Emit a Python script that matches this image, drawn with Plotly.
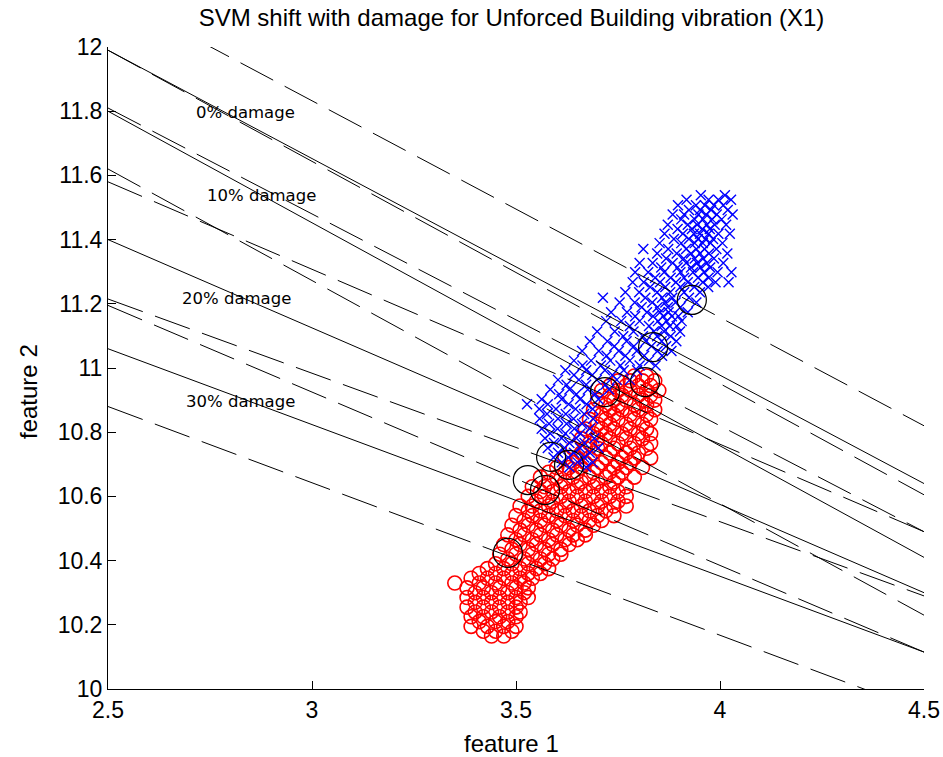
import plotly.graph_objects as go

# Class 1 (blue crosses): rows of (feature 2, [feature 1 values])
blue_rows = [
    (11.538, [3.953, 4.012]),
    (11.524, [3.918, 3.972, 3.996, 4.027]),
    (11.507, [3.897, 3.941, 3.963, 3.985, 4.008]),
    (11.492, [3.924, 3.951, 3.978, 4.019]),
    (11.478, [3.884, 3.912, 3.947, 3.966, 3.992, 4.031]),
    (11.463, [3.905, 3.938, 3.959, 3.981, 4.004]),
    (11.446, [3.872, 3.921, 3.944, 3.968, 3.987, 4.015]),
    (11.433, [3.896, 3.931, 3.957, 3.975]),
    (11.418, [3.864, 3.909, 3.936, 3.951, 3.972, 3.996, 4.024]),
    (11.402, [3.887, 3.924, 3.946, 3.964, 3.983]),
    (11.389, [3.852, 3.905, 3.938, 3.958, 3.977, 4.006]),
    (11.371, [3.812, 3.873, 3.917, 3.942, 3.962, 3.991]),
    (11.357, [3.846, 3.894, 3.929, 3.951, 3.973, 4.018]),
    (11.341, [3.868, 3.911, 3.938, 3.959, 3.985]),
    (11.327, [3.803, 3.835, 3.884, 3.917, 3.944, 3.968, 4.008]),
    (11.313, [3.856, 3.896, 3.929, 3.952, 3.976]),
    (11.298, [3.792, 3.824, 3.863, 3.903, 3.934, 3.961, 3.994, 4.028]),
    (11.281, [3.841, 3.879, 3.912, 3.946, 3.972]),
    (11.267, [3.786, 3.813, 3.853, 3.892, 3.921, 3.958, 3.989, 4.021]),
    (11.252, [3.829, 3.866, 3.903, 3.937, 3.971]),
    (11.236, [3.768, 3.802, 3.846, 3.878, 3.912, 3.951]),
    (11.219, [3.713, 3.817, 3.858, 3.883, 3.924]),
    (11.204, [3.754, 3.791, 3.834, 3.866, 3.891, 3.942]),
    (11.189, [3.808, 3.847, 3.872, 3.903]),
    (11.174, [3.733, 3.772, 3.821, 3.853, 3.874, 3.921]),
    (11.161, [3.792, 3.836, 3.861, 3.882, 3.898]),
    (11.146, [3.721, 3.758, 3.803, 3.848, 3.869, 3.906]),
    (11.131, [3.779, 3.826, 3.857, 3.877, 3.894]),
    (11.114, [3.699, 3.742, 3.788, 3.838, 3.863, 3.902]),
    (11.099, [3.763, 3.811, 3.846, 3.879]),
    (11.083, [3.681, 3.724, 3.771, 3.818, 3.857, 3.893]),
    (11.068, [3.741, 3.789, 3.832, 3.868]),
    (11.053, [3.662, 3.703, 3.752, 3.796, 3.847, 3.881]),
    (11.038, [3.722, 3.768, 3.814, 3.858]),
    (11.023, [3.642, 3.684, 3.731, 3.779, 3.826]),
    (11.008, [3.663, 3.708, 3.756, 3.803, 3.842]),
    (10.993, [3.621, 3.672, 3.718, 3.764, 3.797]),
    (10.978, [3.642, 3.687, 3.736]),
    (10.963, [3.603, 3.654, 3.698, 3.747, 3.779]),
    (10.948, [3.624, 3.672, 3.719]),
    (10.933, [3.584, 3.631, 3.676, 3.728]),
    (10.918, [3.606, 3.648, 3.694]),
    (10.903, [3.563, 3.612, 3.657, 3.702]),
    (10.887, [3.527, 3.578, 3.629, 3.673]),
    (10.872, [3.557, 3.598, 3.646, 3.688]),
    (10.857, [3.576, 3.622, 3.667]),
    (10.842, [3.558, 3.603, 3.641, 3.689]),
    (10.826, [3.581, 3.624, 3.662]),
    (10.811, [3.563, 3.602, 3.643, 3.681]),
    (10.796, [3.584, 3.621, 3.658]),
    (10.781, [3.571, 3.612, 3.648, 3.692]),
    (10.766, [3.593, 3.631, 3.668]),
    (10.751, [3.578, 3.619, 3.657, 3.702]),
    (10.736, [3.603, 3.642, 3.681]),
    (10.721, [3.592, 3.628, 3.667]),
    (10.706, [3.612, 3.651, 3.688]),
    (10.691, [3.631, 3.672]),
]

# Class 2 (red circles): rows of (feature 2, [feature 1 values])
red_rows = [
    (10.975, [3.79, 3.82]),
    (10.96, [3.75, 3.78, 3.81, 3.84]),
    (10.945, [3.73, 3.77, 3.80, 3.83]),
    (10.93, [3.71, 3.75, 3.78, 3.82, 3.85]),
    (10.915, [3.73, 3.76, 3.80, 3.83]),
    (10.90, [3.70, 3.74, 3.77, 3.81, 3.84]),
    (10.885, [3.72, 3.75, 3.79, 3.82]),
    (10.87, [3.69, 3.73, 3.76, 3.80, 3.84]),
    (10.855, [3.71, 3.74, 3.78, 3.82]),
    (10.84, [3.68, 3.72, 3.75, 3.79, 3.83]),
    (10.825, [3.70, 3.73, 3.77, 3.81]),
    (10.81, [3.67, 3.71, 3.74, 3.78, 3.82]),
    (10.795, [3.69, 3.72, 3.76, 3.80, 3.83]),
    (10.78, [3.66, 3.70, 3.73, 3.77, 3.81]),
    (10.765, [3.68, 3.71, 3.75, 3.79, 3.83]),
    (10.75, [3.64, 3.67, 3.70, 3.74, 3.78, 3.82]),
    (10.735, [3.66, 3.69, 3.73, 3.77, 3.80]),
    (10.72, [3.62, 3.65, 3.68, 3.72, 3.76, 3.79, 3.83]),
    (10.705, [3.64, 3.67, 3.71, 3.75, 3.78]),
    (10.69, [3.60, 3.63, 3.66, 3.70, 3.74, 3.77, 3.81]),
    (10.675, [3.58, 3.62, 3.65, 3.69, 3.73, 3.76]),
    (10.66, [3.56, 3.60, 3.64, 3.68, 3.72, 3.75, 3.79]),
    (10.645, [3.58, 3.62, 3.66, 3.70, 3.74]),
    (10.63, [3.54, 3.57, 3.61, 3.65, 3.69, 3.73, 3.77]),
    (10.615, [3.56, 3.59, 3.63, 3.67, 3.71, 3.75]),
    (10.60, [3.53, 3.57, 3.61, 3.65, 3.69, 3.73, 3.77]),
    (10.585, [3.55, 3.59, 3.63, 3.67, 3.71, 3.75]),
    (10.57, [3.51, 3.54, 3.58, 3.62, 3.66, 3.70, 3.74, 3.77]),
    (10.555, [3.53, 3.56, 3.60, 3.64, 3.68, 3.72]),
    (10.54, [3.50, 3.54, 3.58, 3.62, 3.66, 3.70, 3.74]),
    (10.525, [3.52, 3.56, 3.60, 3.64, 3.68, 3.71]),
    (10.51, [3.49, 3.53, 3.57, 3.61, 3.65, 3.69]),
    (10.495, [3.51, 3.55, 3.59, 3.63, 3.67]),
    (10.48, [3.48, 3.52, 3.56, 3.60, 3.64, 3.67]),
    (10.465, [3.50, 3.54, 3.58, 3.62, 3.65]),
    (10.45, [3.47, 3.51, 3.55, 3.59, 3.63]),
    (10.435, [3.49, 3.53, 3.57, 3.61]),
    (10.42, [3.46, 3.50, 3.54, 3.58, 3.61]),
    (10.405, [3.48, 3.52, 3.56, 3.59]),
    (10.39, [3.45, 3.49, 3.53, 3.57]),
    (10.375, [3.43, 3.47, 3.51, 3.55, 3.58]),
    (10.36, [3.41, 3.45, 3.49, 3.53, 3.56]),
    (10.345, [3.39, 3.43, 3.47, 3.51, 3.54]),
    (10.33, [3.35, 3.41, 3.45, 3.49, 3.52]),
    (10.315, [3.38, 3.42, 3.46, 3.50, 3.53]),
    (10.30, [3.40, 3.44, 3.48, 3.52]),
    (10.285, [3.38, 3.42, 3.46, 3.50, 3.53]),
    (10.27, [3.40, 3.44, 3.48, 3.51]),
    (10.255, [3.38, 3.42, 3.46, 3.50]),
    (10.24, [3.40, 3.44, 3.48, 3.51]),
    (10.225, [3.39, 3.42, 3.46, 3.50]),
    (10.21, [3.41, 3.45, 3.48]),
    (10.195, [3.39, 3.43, 3.47, 3.50]),
    (10.18, [3.42, 3.45, 3.49]),
    (10.165, [3.44, 3.47]),
]

# Support vectors
sv_x = [3.931, 3.836, 3.816, 3.718, 3.586, 3.630, 3.529, 3.571, 3.480]
sv_y = [11.212, 11.065, 10.956, 10.925, 10.723, 10.698, 10.651, 10.620, 10.424]

# Decision boundaries (solid) and margins (dashed) per damage level,
# given as feature 2 at feature 1 = 2.5 and feature 1 = 4.5
damage_labels = ["0% damage", "10% damage", "20% damage", "30% damage"]
line_x = [2.5, 4.5]
solid_left = [11.99, 11.80, 11.40, 11.06]
solid_right = [10.64, 10.41, 10.30, 10.115]
upper_left = [12.17, 11.99, 11.58, 11.215]
upper_right = [10.82, 10.605, 10.49, 10.29]
lower_left = [11.81, 11.62, 11.195, 10.88]
lower_right = [10.49, 10.23, 10.115, 9.93]

# Label anchor positions
label_x = [2.836, 2.875, 2.816, 2.824]
label_y = [11.797, 11.536, 11.218, 10.897]

x_ticks = [2.5, 3, 3.5, 4, 4.5]
x_tick_text = ["2.5", "3", "3.5", "4", "4.5"]
y_ticks = [10, 10.2, 10.4, 10.6, 10.8, 11, 11.2, 11.4, 11.6, 11.8, 12]
y_tick_text = ["10", "10.2", "10.4", "10.6", "10.8", "11", "11.2", "11.4", "11.6", "11.8", "12"]


def flatten(rows):
    xs, ys = [], []
    for y, row in rows:
        for x in row:
            xs.append(x)
            ys.append(y)
    return xs, ys


red_x, red_y = flatten(red_rows)
blue_x, blue_y = flatten(blue_rows)

fig = go.Figure()

fig.add_trace(go.Scatter(
    x=red_x, y=red_y, mode="markers",
    marker=dict(symbol="circle-open", size=14, color="#ff0000", line=dict(width=1.6)),
))
fig.add_trace(go.Scatter(
    x=blue_x, y=blue_y, mode="markers",
    marker=dict(symbol="x-thin-open", size=10, color="#0000ff", line=dict(width=1.4, color="#0000ff")),
))
fig.add_trace(go.Scatter(
    x=sv_x, y=sv_y, mode="markers",
    marker=dict(symbol="circle-open", size=29, color="black", line=dict(width=1.2)),
))

for i in range(len(damage_labels)):
    fig.add_trace(go.Scatter(
        x=line_x, y=[solid_left[i], solid_right[i]], mode="lines",
        line=dict(color="black", width=1),
    ))
    for left, right in ((upper_left[i], upper_right[i]), (lower_left[i], lower_right[i])):
        fig.add_trace(go.Scatter(
            x=line_x, y=[left, right], mode="lines",
            line=dict(color="black", width=1, dash="37px,13px"),
        ))
    fig.add_annotation(
        x=label_x[i], y=label_y[i], text=damage_labels[i], showarrow=False,
        font=dict(family="DejaVu Sans", size=16.5, color="black"),
        xanchor="center", yanchor="middle",
    )

axis_font = dict(family="Liberation Sans, Arial", size=23, color="black")

fig.update_xaxes(
    range=[2.5, 4.5], tickmode="array", tickvals=x_ticks, ticktext=x_tick_text,
    ticks="inside", ticklen=8, tickcolor="black", tickwidth=1,
    showline=True, linecolor="black", linewidth=1, mirror=False,
    showgrid=False, zeroline=False, tickfont=axis_font, automargin=False,
)
fig.update_yaxes(
    range=[10, 12], tickmode="array", tickvals=y_ticks, ticktext=y_tick_text,
    ticks="inside", ticklen=8, tickcolor="black", tickwidth=1,
    showline=True, linecolor="black", linewidth=1, mirror=False,
    showgrid=False, zeroline=False, tickfont=axis_font, automargin=False,
)

title_font = dict(family="Liberation Sans, Arial", size=24, color="black")

fig.add_annotation(
    x=0.4945, y=0, xref="paper", yref="paper", yshift=-54,
    text="feature 1", showarrow=False, font=title_font,
    xanchor="center", yanchor="middle",
)
fig.add_annotation(
    x=0, y=0.4626, xref="paper", yref="paper", xshift=-80,
    text="feature 2", showarrow=False, textangle=-90, font=title_font,
    xanchor="center", yanchor="middle",
)

fig.update_layout(
    width=943, height=757,
    margin=dict(l=108, r=19, t=47, b=68),
    paper_bgcolor="white", plot_bgcolor="white",
    showlegend=False,
    title=dict(
        text="SVM shift with damage for Unforced Building vibration (X1)",
        x=0.5424, xanchor="center", y=1 - 18 / 757, yanchor="middle", yref="container",
        font=title_font,
    ),
)

fig.write_html("out.html")
